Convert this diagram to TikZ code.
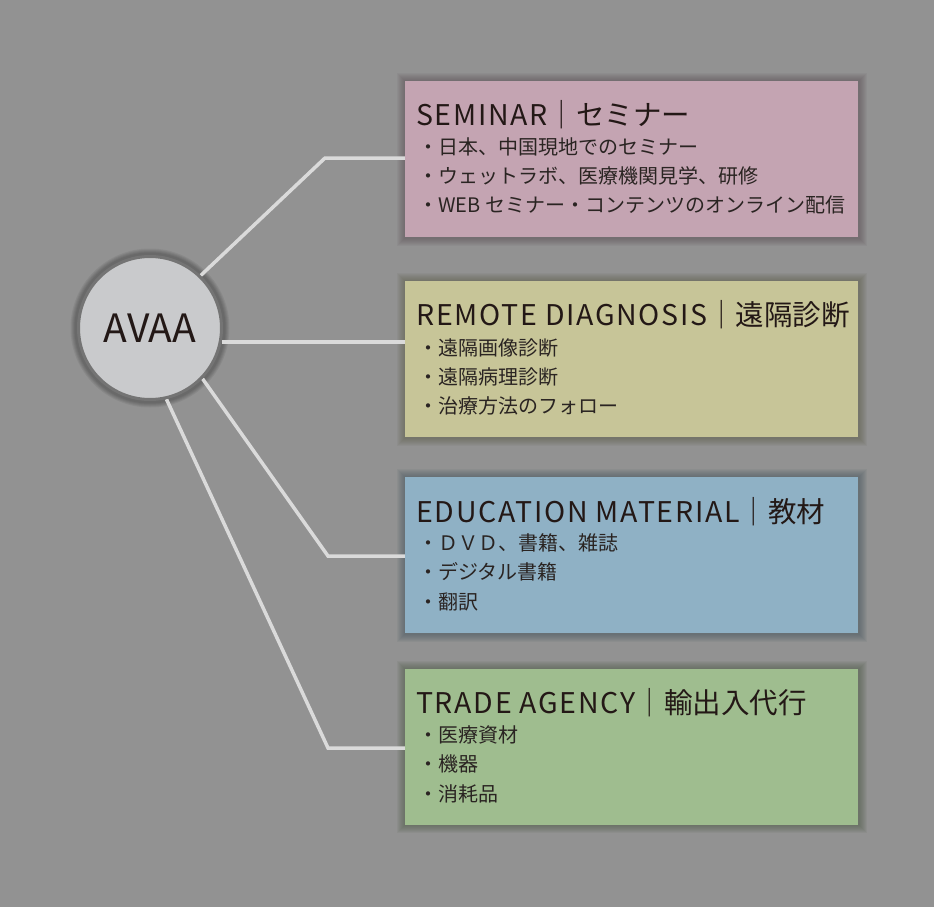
\documentclass[tikz,border=0pt]{standalone}
\usepackage{fontspec}
\setmainfont{Noto Sans CJK JP}
\newfontfamily\latinwide[LetterSpace=6]{Noto Sans CJK JP}
\usetikzlibrary{calc,backgrounds}
\definecolor{bg}{HTML}{929292}
\definecolor{pinkc}{HTML}{C4A4B2}
\definecolor{yellowc}{HTML}{C7C598}
\definecolor{bluec}{HTML}{8FB1C5}
\definecolor{greenc}{HTML}{9FBD8F}
\definecolor{linec}{HTML}{DADADA}
\definecolor{txt}{HTML}{231816}
\definecolor{itxt}{HTML}{2A2422}
\definecolor{circfill}{HTML}{C9CACC}
\definecolor{circedge}{HTML}{747474}
\pgfdeclarelayer{bottom}
\pgfsetlayers{bottom,background,main}
\tikzset{
  box/.style={rectangle, minimum width=453pt, minimum height=156pt, inner sep=0pt, draw=none},
  title/.style={anchor=base west, inner sep=0pt, text=txt, font=\fontsize{28.5}{34}\selectfont},
  item/.style={anchor=west, inner sep=0pt, text=itxt, font=\fontsize{20}{24}\selectfont},
  conn/.style={draw=linec, line width=3.5pt},
  hub/.style={circle, fill=circfill, draw=circedge, line width=3pt, minimum size=143pt, inner sep=0pt, text=txt, font=\fontsize{39}{44}\selectfont}
}
\newcommand{\glowbox}[2]{%
  \begin{pgfonlayer}{background}
    \foreach \i in {8,7,...,1}{
      \fill[#2!45!black, opacity=0.075] ($(#1.north west)+(-\i+0.5,-\i+0.5)$) rectangle ($(#1.south east)+(\i+0.5,\i+0.5)$);
    }
  \end{pgfonlayer}}
\newcommand{\ttl}[2]{{\latinwide #1}｜#2}
\begin{document}
\begin{tikzpicture}[x=1pt,y=-1pt]
\begin{pgfonlayer}{bottom}
\fill[bg] (0,0) rectangle (934,907);
\end{pgfonlayer}
\useasboundingbox (0,0) rectangle (934,907);

% boxes
\node[box, fill=pinkc]   (b1) at (631.5,159) {};
\node[box, fill=yellowc] (b2) at (631.5,359) {};
\node[box, fill=bluec]   (b3) at (631.5,555) {};
\node[box, fill=greenc]  (b4) at (631.5,746.5) {};
\glowbox{b1}{pinkc}
\glowbox{b2}{yellowc}
\glowbox{b3}{bluec}
\glowbox{b4}{greenc}

% hub
\begin{pgfonlayer}{background}
\foreach \i in {5,4,3,2,1}{
  \fill[black, opacity=0.06] (150,328) circle (74.5+\i);
}
\end{pgfonlayer}
\node[hub] (c) at (150,328) {AVAA};

% bends
\coordinate (k1) at (325,158);
\coordinate (k3) at (328,556);
\coordinate (k4) at (328,748);
\coordinate (e1) at (b1.west |- k1);
\coordinate (e3) at (b3.west |- k3);
\coordinate (e4) at (b4.west |- k4);
\coordinate (e2) at ($(b2.west)+(0,-17)$);

\begin{pgfonlayer}{background}
\draw[conn] (c.46) -- (k1) -- (e1);
\draw[conn] (c.-11) -- (c.-11 -| e2) -- (e2);
\draw[conn] (c.-44) -- (k3) -- (e3);
\draw[conn] (c.-77) -- (k4) -- (e4);
\end{pgfonlayer}

% texts box 1
\node[title] (t1) at (416,125) {\ttl{SEMINAR}{セミナー}};
\node[item] (i11) at (418,147) {・日本、中国現地でのセミナー};
\node[item] (i12) at (418,176) {・ウェットラボ、医療機関見学、研修};
\node[item] (i13) at (418,205) {・WEB セミナー・コンテンツのオンライン配信};
% box 2
\node[title] (t2) at (416,325) {\ttl{REMOTE DIAGNOSIS}{遠隔診断}};
\node[item] (i21) at (418,348) {・遠隔画像診断};
\node[item] (i22) at (418,377) {・遠隔病理診断};
\node[item] (i23) at (418,406) {・治療方法のフォロー};
% box 3
\node[title] (t3) at (416,522) {\ttl{EDUCATION MATERIAL}{教材}};
\node[item] (i31) at (418,543) {・ＤＶＤ、書籍、雑誌};
\node[item] (i32) at (418,572) {・デジタル書籍};
\node[item] (i33) at (418,602) {・翻訳};
% box 4
\node[title] (t4) at (416,713) {\ttl{TRADE AGENCY}{輸出入代行}};
\node[item] (i41) at (418,735) {・医療資材};
\node[item] (i42) at (418,764) {・機器};
\node[item] (i43) at (418,794) {・消耗品};
\end{tikzpicture}
\end{document}
